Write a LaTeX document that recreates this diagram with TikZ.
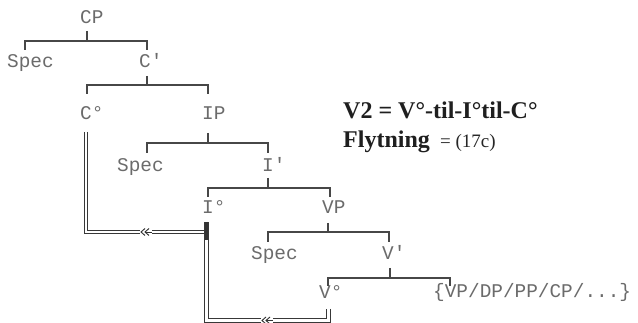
\documentclass[tikz,border=0pt]{standalone}
\usepackage{fontspec}
\setmainfont{Liberation Serif}
\newfontfamily\treefont[Ligatures=TeXOff]{Liberation Mono}
\begin{document}
\begin{tikzpicture}[x=1pt,y=-1pt,
  lab/.style={anchor=base west, inner sep=0pt, text=black!58, font=\treefont\fontsize{19.4}{20}\selectfont},
  tree/.style={draw=black!72, line width=1.3pt},
  mv/.style={draw=black!78, line width=0.8pt, double=white, double distance=2.6pt},
  chevl/.style={draw=black!80, line width=0.9pt},
  boldtxt/.style={anchor=base west, inner sep=0pt, text=black!88, font=\bfseries\fontsize{24}{26}\selectfont},
  regtxt/.style={anchor=base west, inner sep=0pt, text=black!85, font=\fontsize{19}{20}\selectfont}
]
\useasboundingbox (0,0) rectangle (638,323);
\fill[white] (0,0) rectangle (638,323);

% tree labels
\node[lab] (cp) at (80,24) {CP};
\node[lab] (spec1) at (7,68) {Spec};
\node[lab] (c1) at (139,68) {C'};
\node[lab] (c0) at (80,120) {C°};
\node[lab] (ip) at (202,120) {IP};
\node[lab] (spec2) at (117,172) {Spec};
\node[lab] (i1) at (262,172) {I'};
\node[lab] (i0) at (202,214) {I°};
\node[lab] (vp) at (322,214) {VP};
\node[lab] (spec3) at (251,260) {Spec};
\node[lab] (v1) at (382,260) {V'};
\node[lab] (v0) at (319,299) {V°};
\node[lab] (comp) at (433,298) {\{VP/DP/PP/CP/...\}};

% right-hand text
\node[boldtxt] (eq) at (343,119) {V2 = V°-til-I°til-C°};
\node[boldtxt] (fly) at (343,148) {Flytning};
\node[regtxt] (ref) at (440,148) {= (17c)};

% tree brackets
\coordinate (cpS) at (87,31);   \coordinate (cpB) at (87,41);
\draw[tree] (cpS) -- (cpB);
\draw[tree] (25,50) |- (147,41) -- (147,50);

\coordinate (c1S) at (147,76);  \coordinate (c1B) at (147,85);
\draw[tree] (c1S) -- (c1B);
\draw[tree] (87,94) |- (208,85) -- (208,94);

\coordinate (ipS) at (208,133); \coordinate (ipB) at (208,143);
\draw[tree] (ipS) -- (ipB);
\draw[tree] (147,153) |- (268,143) -- (268,153);

\coordinate (i1S) at (268,178); \coordinate (i1B) at (268,188);
\draw[tree] (i1S) -- (i1B);
\draw[tree] (208,197) |- (330,188) -- (330,197);

\coordinate (vpS) at (328,223); \coordinate (vpB) at (328,232);
\draw[tree] (vpS) -- (vpB);
\draw[tree] (268,242) |- (389,232) -- (389,242);

\coordinate (v1S) at (390,268); \coordinate (v1B) at (390,278);
\draw[tree] (v1S) -- (v1B);
\draw[tree] (328,286) |- (450,278) -- (450,286);

% movement paths
\coordinate (c0T) at (86,132);
\coordinate (i0J) at (205,232);
\coordinate (v0B) at (328.5,309);
\coordinate (i0B) at (206.5,222);
\draw[mv] (c0T) |- (i0J);
\draw[mv] (v0B) |- (206.5,320.5) -- (i0B);
\draw[draw=black!80, line width=2.2pt] (i0B) -- (206.5,240);

% double chevrons on the movement lines
\coordinate (ch1) at (146,232);
\coordinate (ch2) at (267,320.5);
\foreach \c in {ch1,ch2}{
  \fill[white] ([xshift=-6pt,yshift=-2.6pt]\c) rectangle ([xshift=6pt,yshift=2.6pt]\c);
  \draw[chevl] ([xshift=-1pt,yshift=-3.5pt]\c) -- ([xshift=-5pt]\c) -- ([xshift=-1pt,yshift=3.5pt]\c);
  \draw[chevl] ([xshift=3pt,yshift=-3.5pt]\c) -- ([xshift=-1pt]\c) -- ([xshift=3pt,yshift=3.5pt]\c);
  \draw[draw=black!80, line width=0.8pt] ([xshift=-1pt]\c) -- ([xshift=6pt]\c);
}
\end{tikzpicture}
\end{document}
